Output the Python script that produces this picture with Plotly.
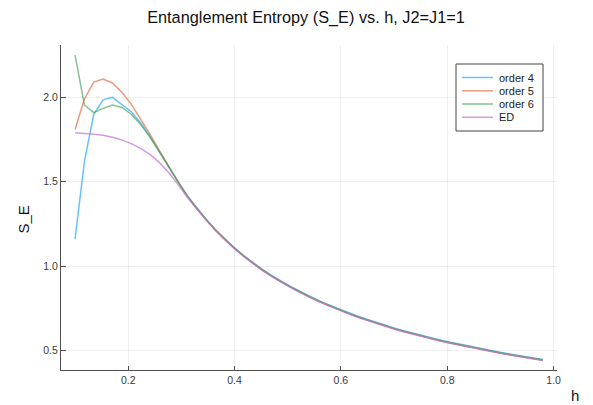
import plotly.graph_objects as go

H = [0.1, 0.1176, 0.1352, 0.1528, 0.1704, 0.188, 0.2056, 0.2232, 0.2408, 0.2584,
     0.276, 0.2936, 0.3112, 0.3288, 0.3464, 0.364, 0.3816, 0.3992, 0.4168, 0.4344,
     0.452, 0.4696, 0.4872, 0.5048, 0.5224, 0.54, 0.5576, 0.5752, 0.5928, 0.6104,
     0.628, 0.6456, 0.6632, 0.6808, 0.6984, 0.716, 0.7336, 0.7512, 0.7688, 0.7864,
     0.804, 0.8216, 0.8392, 0.8568, 0.8744, 0.892, 0.9096, 0.9272, 0.9448, 0.9624, 0.98]

ORDER4 = [1.16, 1.62, 1.90, 1.985, 2.00, 1.96, 1.915, 1.85, 1.77, 1.68, 1.588,
          1.500, 1.418, 1.345, 1.279, 1.218, 1.163, 1.111, 1.065, 1.022, 0.982,
          0.946, 0.912, 0.881, 0.852, 0.824, 0.798, 0.774, 0.751, 0.729, 0.708,
          0.689, 0.670, 0.653, 0.636, 0.620, 0.605, 0.591, 0.577, 0.564, 0.551,
          0.539, 0.527, 0.516, 0.505, 0.495, 0.485, 0.475, 0.466, 0.457, 0.448]

ORDER5 = [1.81, 1.99, 2.09, 2.108, 2.085, 2.03, 1.96, 1.875, 1.782, 1.686, 1.590,
          1.499, 1.413, 1.340, 1.274, 1.213, 1.158, 1.106, 1.060, 1.017, 0.977,
          0.941, 0.907, 0.876, 0.847, 0.819, 0.793, 0.769, 0.746, 0.724, 0.703,
          0.684, 0.665, 0.648, 0.631, 0.615, 0.600, 0.586, 0.572, 0.559, 0.546,
          0.534, 0.522, 0.511, 0.500, 0.490, 0.480, 0.470, 0.461, 0.452, 0.443]

ORDER6 = [2.25, 1.955, 1.91, 1.935, 1.955, 1.94, 1.90, 1.84, 1.765, 1.678, 1.586,
          1.497, 1.415, 1.342, 1.276, 1.215, 1.160, 1.108, 1.062, 1.019, 0.979,
          0.943, 0.909, 0.878, 0.849, 0.821, 0.795, 0.771, 0.748, 0.726, 0.705,
          0.686, 0.667, 0.650, 0.633, 0.617, 0.602, 0.588, 0.574, 0.561, 0.548,
          0.536, 0.524, 0.513, 0.502, 0.492, 0.482, 0.472, 0.463, 0.454, 0.445]

ED = [1.79, 1.787, 1.782, 1.775, 1.764, 1.748, 1.726, 1.698, 1.662, 1.615, 1.555,
      1.485, 1.408, 1.339, 1.273, 1.212, 1.157, 1.105, 1.059, 1.016, 0.976,
      0.940, 0.906, 0.875, 0.846, 0.818, 0.792, 0.768, 0.745, 0.723, 0.702,
      0.683, 0.664, 0.647, 0.630, 0.614, 0.599, 0.585, 0.571, 0.558, 0.545,
      0.533, 0.521, 0.510, 0.499, 0.489, 0.479, 0.469, 0.460, 0.451, 0.442]

NAMES = ["order 4", "order 5", "order 6", "ED"]
SERIES = [ORDER4, ORDER5, ORDER6, ED]
COLORS = ["rgba(0,154,250,0.6)", "rgba(227,111,71,0.7)",
          "rgba(62,164,78,0.65)", "rgba(195,113,210,0.7)"]

X_TICKS = [0.2, 0.4, 0.6, 0.8, 1.0]
Y_TICKS = [0.5, 1.0, 1.5, 2.0]

FONT = "Liberation Sans, Arial, Helvetica, sans-serif"
AXIS_COLOR = "#505050"

fig = go.Figure()
for name, ys, col in zip(NAMES, SERIES, COLORS):
    fig.add_trace(go.Scatter(x=H, y=ys, mode="lines", name=name,
                             line=dict(color=col, width=1.5), showlegend=False))

W, HT = 593, 405
L, R, T, B = 61, 36, 45, 35
pw, ph = W - L - R, HT - T - B

def px(xp):
    return (xp - L) / pw

def py(yp):
    return (HT - B - yp) / ph

# manual legend (Plots.jl-style compact box)
shapes = [dict(type="rect", xref="paper", yref="paper",
               x0=px(456), x1=px(543), y0=py(131), y1=py(64),
               line=dict(color="#444444", width=1), fillcolor="white", layer="above")]
annotations = []
leg_y = [77.5, 90.8, 104, 117.3]
for name, col, yy in zip(NAMES, COLORS, leg_y):
    shapes.append(dict(type="line", xref="paper", yref="paper",
                       x0=px(462), x1=px(493), y0=py(yy), y1=py(yy),
                       line=dict(color=col, width=1.5), layer="above"))
    annotations.append(dict(text=name, xref="paper", yref="paper",
                            x=px(497), y=py(yy), xanchor="left", yanchor="middle",
                            showarrow=False, font=dict(family=FONT, size=11, color="#222")))

annotations.append(dict(text="S_E", xref="paper", yref="paper", x=px(22.5), y=py(220),
                        textangle=-90, showarrow=False, xanchor="center", yanchor="middle",
                        font=dict(family=FONT, size=15, color="#111")))
annotations.append(dict(text="h", xref="paper", yref="paper", x=px(575), y=py(395),
                        showarrow=False, xanchor="center", yanchor="middle",
                        font=dict(family=FONT, size=15, color="#111")))

fig.update_layout(
    width=W, height=HT,
    margin=dict(l=L, r=R, t=T, b=B),
    paper_bgcolor="white", plot_bgcolor="white",
    title=dict(text="Entanglement Entropy (S_E) vs. h, J2=J1=1",
               x=px(306), xref="paper", xanchor="center",
               y=1 - 17 / HT, yref="container", yanchor="middle",
               font=dict(family=FONT, size=16.3, color="#111")),
    shapes=shapes, annotations=annotations,
    xaxis=dict(range=[0.0736, 1.0064], tickvals=X_TICKS,
               ticktext=[f"{v:.1f}" for v in X_TICKS],
               showgrid=True, gridcolor="rgba(0,0,0,0.06)", gridwidth=1,
               zeroline=False, showline=True, linecolor=AXIS_COLOR, linewidth=1,
               ticks="inside", ticklen=4, tickcolor=AXIS_COLOR, tickwidth=1,
               tickfont=dict(family=FONT, size=10.5, color="#3a3a3a")),
    yaxis=dict(range=[0.3857, 2.31], tickvals=Y_TICKS,
               ticktext=[f"{v:.1f}" for v in Y_TICKS],
               showgrid=True, gridcolor="rgba(0,0,0,0.06)", gridwidth=1,
               zeroline=False, showline=True, linecolor=AXIS_COLOR, linewidth=1,
               ticks="inside", ticklen=5, tickcolor=AXIS_COLOR, tickwidth=1,
               tickfont=dict(family=FONT, size=10.5, color="#3a3a3a")),
)

fig.write_html("out.html", config={"displayModeBar": False})
